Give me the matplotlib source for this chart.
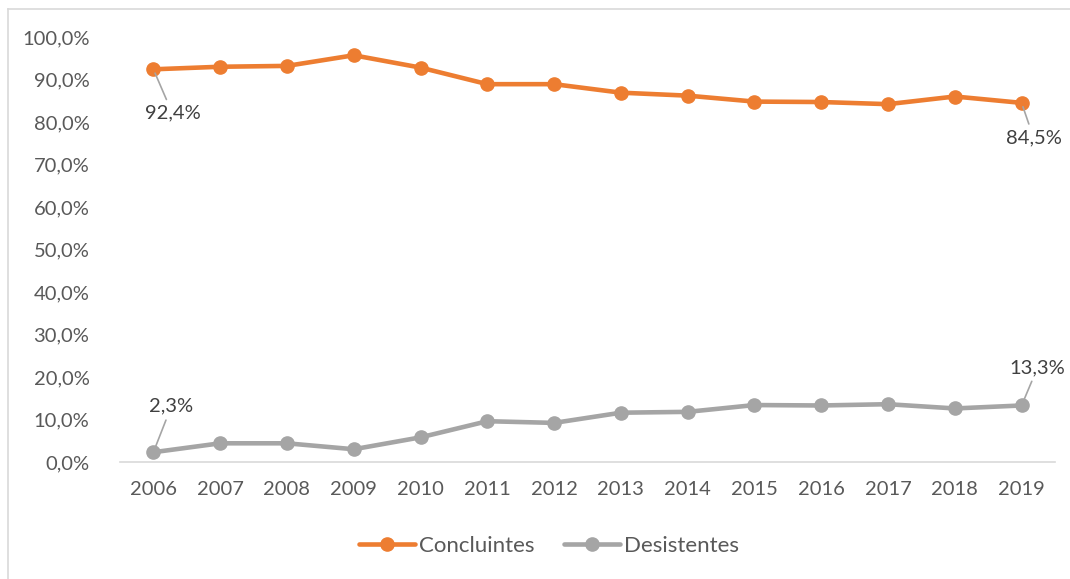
import matplotlib
matplotlib.use('Agg')
import matplotlib.pyplot as plt
from matplotlib.lines import Line2D

anos = ['2006', '2007', '2008', '2009', '2010', '2011', '2012',
        '2013', '2014', '2015', '2016', '2017', '2018', '2019']
concluintes = [92.4, 93.0, 93.2, 95.7, 92.8, 88.9, 88.9,
               86.9, 86.2, 84.8, 84.7, 84.2, 86.0, 84.5]
desistentes = [2.3, 4.4, 4.4, 3.0, 5.8, 9.6, 9.2,
               11.6, 11.8, 13.4, 13.3, 13.6, 12.6, 13.3]

laranja = '#ED7D31'
cinza = '#A5A5A5'
texto = '#595959'

plt.rcParams['font.family'] = ['Lato', 'DejaVu Sans']

fig = plt.figure(figsize=(10.7, 5.79), dpi=100)
ax = fig.add_axes([120/1070, 1 - 462/579, (1055-120)/1070, (462-37)/579])

x = list(range(len(anos)))
ax.plot(x, concluintes, color=laranja, lw=3.3, marker='o', ms=9.5,
        label='Concluintes', solid_capstyle='round')
ax.plot(x, desistentes, color=cinza, lw=3.3, marker='o', ms=9.5,
        label='Desistentes', solid_capstyle='round')

ax.set_xlim(-0.5, len(anos) - 0.5)
ax.set_ylim(0, 100)
ax.set_xticks(x)
ax.set_xticklabels(anos)
ax.set_yticks(range(0, 101, 10))
ax.set_yticklabels([f'{v},0%' for v in range(0, 101, 10)])
ax.tick_params(length=0, labelsize=14.5, colors=texto)
ax.tick_params(axis='x', pad=14)
ax.tick_params(axis='y', pad=22)
for s in ['top', 'right', 'left']:
    ax.spines[s].set_visible(False)
ax.spines['bottom'].set_color('#D9D9D9')
ax.spines['bottom'].set_linewidth(1.2)

# rótulos do primeiro e do último ano
def rotulo(i, serie, dx, dy):
    ax.annotate(f'{serie[i]:.1f}%'.replace('.', ','), xy=(i, serie[i]),
                xytext=(dx, -dy), textcoords='offset pixels',
                ha='center', va='center', fontsize=14.5, color='#404040',
                arrowprops=dict(arrowstyle='-', color=cinza, lw=1.2,
                                shrinkA=2, shrinkB=3))

rotulo(0, concluintes, 19, 44)
rotulo(13, concluintes, 12, 35)
rotulo(0, desistentes, 18, -46)
rotulo(13, desistentes, 16, -38)

fig.legend(handles=ax.get_lines(), loc='center',
           bbox_to_anchor=(549/1070, 1 - 546/579), ncol=2,
           frameon=False, fontsize=16, labelcolor=texto, handlelength=2.5,
           handletextpad=0.18, columnspacing=1.35)

# moldura do gráfico
fig.add_artist(Line2D([8/1070, 1], [1 - 9/579] * 2, color='#D9D9D9', lw=1.2))
fig.add_artist(Line2D([8/1070] * 2, [0, 1 - 9/579], color='#D9D9D9', lw=1.2))

fig.savefig('out.png', dpi=100, facecolor='white')
